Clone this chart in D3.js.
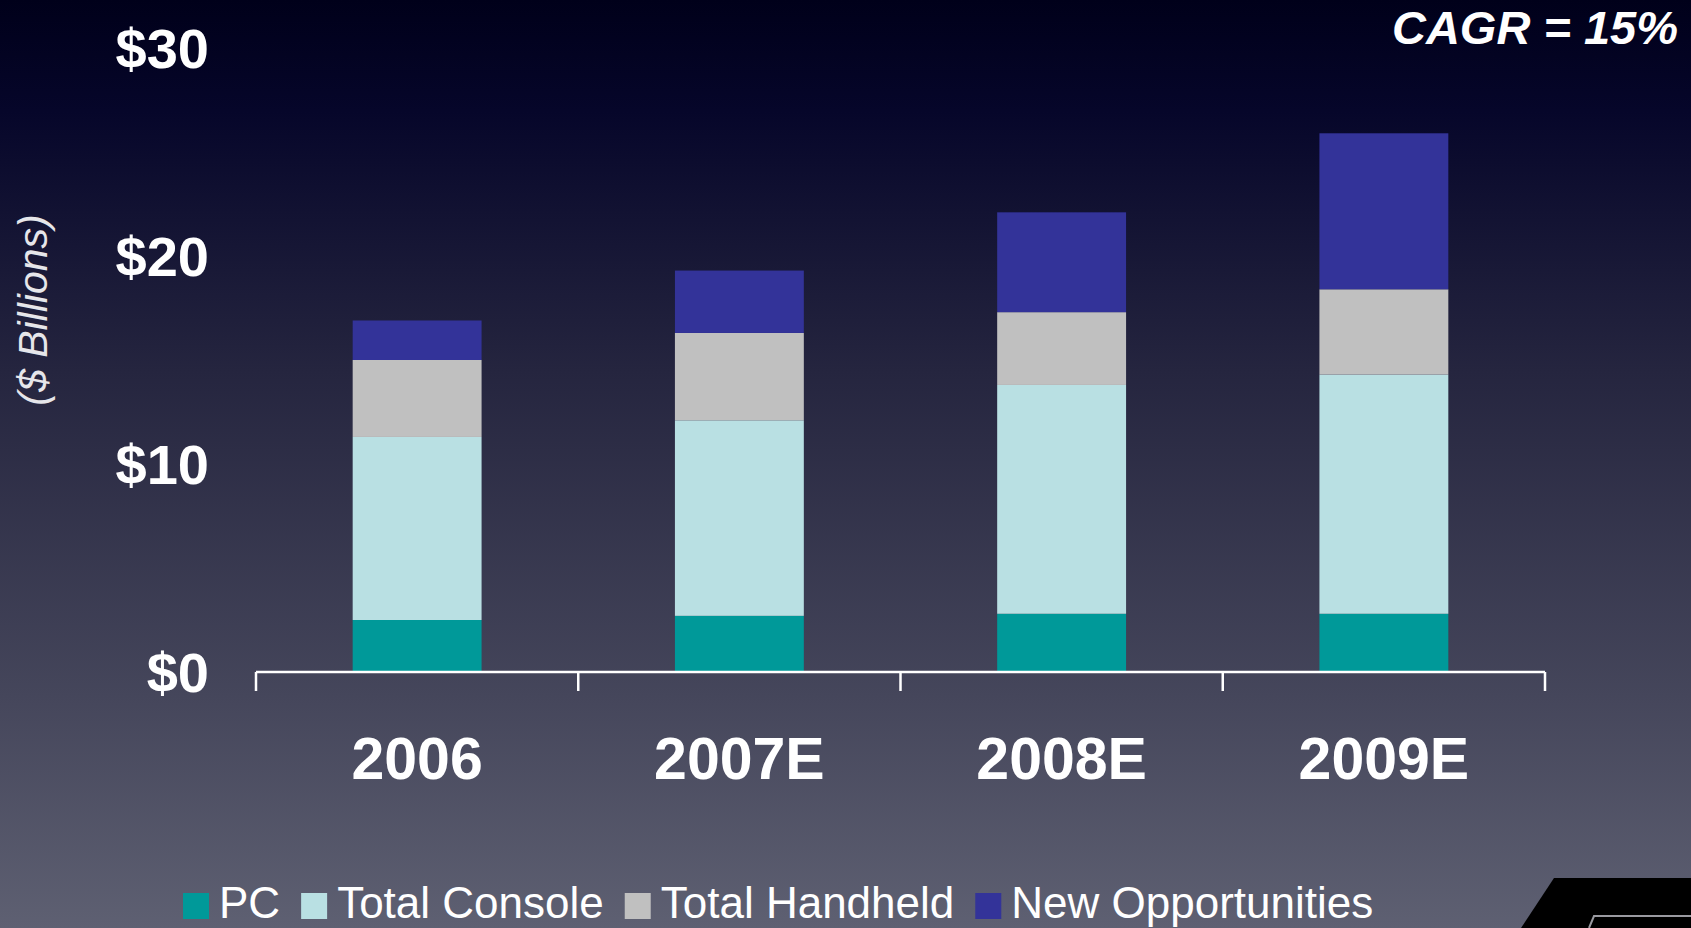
<!DOCTYPE html>
<html>
<head>
<meta charset="utf-8">
<script src="https://cdn.jsdelivr.net/npm/d3@7"></script>
<style>
  body { margin: 0; background: #000018; overflow: hidden; }
  text { font-family: "Liberation Sans", Arial, sans-serif; }
</style>
</head>
<body>
<div id="chart"></div>
<script>
// data
const years = ["2006", "2007E", "2008E", "2009E"];
const seriesNames = ["PC", "Total Console", "Total Handheld", "New Opportunities"];
const seriesColors = ["#009999", "#b9e0e3", "#c0c0c0", "#333399"];
const pc = [2.5, 2.7, 2.8, 2.8];
const consoleTotal = [8.8, 9.4, 11.0, 11.5];
const handheld = [3.7, 4.2, 3.5, 4.1];
const newOpps = [1.9, 3.0, 4.8, 7.5];
const yTicks = [0, 10, 20, 30];
const cagrLabel = "CAGR = 15%";
const unitLabel = "($ Billions)";

function draw() {
    const W = 1691, H = 928;

    const svg = d3.select("#chart").append("svg")
        .attr("width", W)
        .attr("height", H);

    // background gradient
    const grad = svg.append("defs").append("linearGradient")
        .attr("id", "bg").attr("x1", 0).attr("y1", 0).attr("x2", 0).attr("y2", 1);
    [[0, "#00001a"], [0.12, "#06062a"], [0.4, "#25253f"], [0.75, "#45465b"], [1, "#5e6072"]]
        .forEach(s => grad.append("stop").attr("offset", s[0]).attr("stop-color", s[1]));
    svg.append("rect").attr("width", W).attr("height", H).attr("fill", "url(#bg)");

    // table for stacking
    const rows = years.map((yr, i) => ({
        year: yr,
        "PC": pc[i],
        "Total Console": consoleTotal[i],
        "Total Handheld": handheld[i],
        "New Opportunities": newOpps[i]
    }));
    const stacked = d3.stack().keys(seriesNames)(rows);

    const x = d3.scaleBand().domain(years).range([256, 1545]).padding(0);
    const y = d3.scaleLinear().domain([0, 30]).range([672, 48]);
    const barW = x.bandwidth() * 0.4;

    // bars
    svg.append("g").selectAll("g")
        .data(stacked)
        .join("g")
        .attr("fill", (d, i) => seriesColors[i])
        .selectAll("rect")
        .data(d => d)
        .join("rect")
        .attr("x", d => x(d.data.year) + (x.bandwidth() - barW) / 2)
        .attr("width", barW)
        .attr("y", d => y(d[1]))
        .attr("height", d => y(d[0]) - y(d[1]));

    // x axis: baseline plus boundary ticks
    const tickPos = years.map(yr => x(yr)).concat([x.range()[1]]);
    const axis = svg.append("g").attr("stroke", "#ffffff").attr("stroke-width", 2.5);
    axis.append("line")
        .attr("x1", x.range()[0]).attr("x2", x.range()[1])
        .attr("y1", y(0)).attr("y2", y(0));
    axis.selectAll(".tk")
        .data(tickPos)
        .join("line")
        .attr("x1", d => d).attr("x2", d => d)
        .attr("y1", y(0)).attr("y2", y(0) + 19);

    svg.append("g").selectAll("text")
        .data(years)
        .join("text")
        .attr("x", d => x(d) + x.bandwidth() / 2)
        .attr("y", 779)
        .attr("text-anchor", "middle")
        .attr("fill", "#ffffff")
        .attr("font-weight", 700)
        .attr("font-size", 59)
        .text(d => d);

    // y tick labels
    svg.append("g").selectAll("text")
        .data(yTicks)
        .join("text")
        .attr("x", 209)
        .attr("y", d => y(d))
        .attr("dy", "0.36em")
        .attr("text-anchor", "end")
        .attr("fill", "#ffffff")
        .attr("font-weight", 700)
        .attr("font-size", 56)
        .text(d => "$" + d);

    // unit label
    svg.append("text")
        .attr("transform", "translate(47,310)rotate(-90)")
        .attr("text-anchor", "middle")
        .attr("fill", "#e6e6ea")
        .attr("font-style", "italic")
        .attr("font-size", 41)
        .text(unitLabel);

    // CAGR
    svg.append("text")
        .attr("x", 1678)
        .attr("y", 44)
        .attr("text-anchor", "end")
        .attr("fill", "#ffffff")
        .attr("font-weight", 700)
        .attr("font-style", "italic")
        .attr("font-size", 47)
        .text(cagrLabel);

    // legend
    const legend = svg.append("g");
    let cx = 183;
    seriesNames.forEach((name, i) => {
        legend.append("rect")
            .attr("x", cx).attr("y", 893)
            .attr("width", 26).attr("height", 26)
            .attr("fill", seriesColors[i]);
        const t = legend.append("text")
            .attr("x", cx + 36)
            .attr("y", 918)
            .attr("fill", "#ffffff")
            .attr("font-size", 44)
            .text(name);
        cx += 36 + t.node().getComputedTextLength() + 21;
    });

    // slide corner decoration
    svg.append("path")
        .attr("d", "M1554,878 L1691,878 L1691,928 L1521,928 Z")
        .attr("fill", "#000000");
    svg.append("path")
        .attr("d", "M1589,928 L1594,916 L1691,916")
        .attr("fill", "none")
        .attr("stroke", "#9a9aa0")
        .attr("stroke-width", 2);
}

draw();
</script>
</body>
</html>
